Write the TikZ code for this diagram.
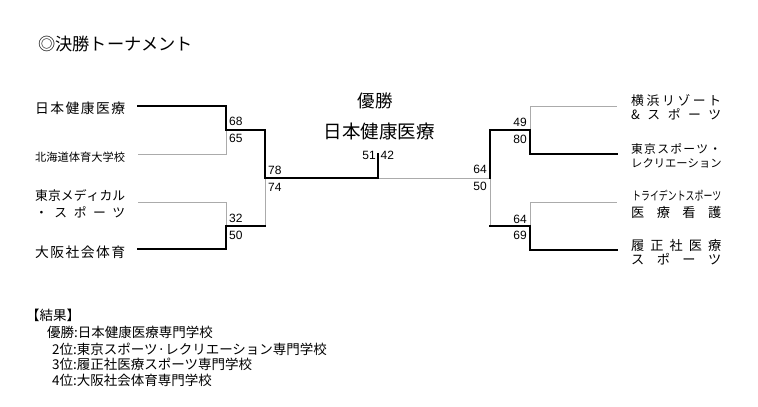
\documentclass[tikz,border=0pt]{standalone}
\usepackage{fontspec}
\usepackage{graphicx}
\setmainfont{Noto Sans CJK JP}
\newfontfamily\numfont{Liberation Sans}
\newcommand{\fs}[1]{\fontsize{#1pt}{#1pt}\selectfont}
\newcommand{\spreadbox}[2][90pt]{\makebox[#1][s]{#2}}
\begin{document}
\begin{tikzpicture}[x=1pt,y=-1pt,
  team/.style={inner sep=0pt, anchor=west, font=\fs{13.8}},
  score/.style={inner sep=0pt, font=\numfont\fs{12}},
  win/.style={line width=2pt, black, line cap=rect},
  lose/.style={line width=1pt, black!33},
  res/.style={inner sep=0pt, anchor=west, font=\fs{13.5}}]
\fill[white] (0,0) rectangle (758,407);
\useasboundingbox (0,0) rectangle (758,407);

% title
\node[inner sep=0pt, anchor=west, font=\fs{17.2}] (title) at (38,44) {◎決勝トーナメント};

% left teams
\node[team] (l1) at (35,108) {\spreadbox{日\hfil 本\hfil 健\hfil 康\hfil 医\hfil 療}};
\node[team, font=\fs{11.25}] (l2) at (35,157) {\spreadbox{北\hfil 海\hfil 道\hfil 体\hfil 育\hfil 大\hfil 学\hfil 校}};
\node[team, font=\fs{12.8}] (l3a) at (35,196) {\spreadbox{東\hfil 京\hfil メ\hfil デ\hfil ィ\hfil カ\hfil ル}};
\node[team, font=\fs{12.8}] (l3b) at (35,212.5) {\spreadbox{・\hfil ス\hfil ポ\hfil ー\hfil ツ}};
\node[team] (l4) at (35,252) {\spreadbox{大\hfil 阪\hfil 社\hfil 会\hfil 体\hfil 育}};

% right teams
\node[team, font=\fs{12.8}] (r1a) at (631,101) {\spreadbox{横\hfil 浜\hfil リ\hfil ゾ\hfil ー\hfil ト}};
\node[team, font=\fs{12.8}] (r1b) at (631,114) {\spreadbox{\&\hfil ス\hfil ポ\hfil ー\hfil ツ}};
\node[team, font=\fs{11.8}] (r2a) at (631,149) {\spreadbox{東\hfil 京\hfil ス\hfil ポ\hfil ー\hfil ツ\hfil ・}};
\node[team, font=\fs{11.3}] (r2b) at (631,163) {\spreadbox{レ\hfil ク\hfil リ\hfil エ\hfil ー\hfil シ\hfil ョ\hfil ン}};
\node[team, font=\fs{12.2}] (r3a) at (632,195.5) {\resizebox{89pt}{\height}{トライデントスポーツ}};
\node[team, font=\fs{13.2}] (r3b) at (631,212) {\spreadbox{医\hfil 療\hfil 看\hfil 護}};
\node[team, font=\fs{13.2}] (r4a) at (631,245) {\spreadbox{履\hfil 正\hfil 社\hfil 医\hfil 療}};
\node[team, font=\fs{13.2}] (r4b) at (631,259.5) {\spreadbox{ス\hfil ポ\hfil ー\hfil ツ}};

% champion
\node[inner sep=0pt, font=\fs{17.5}] (champt) at (375,101) {優勝};
\node[inner sep=0pt, font=\fs{18.5}] (champ) at (379,131.5) {日本健康医療};

% bracket coordinates
\coordinate (a1) at (138,106);
\coordinate (a2) at (138,154);
\coordinate (a3) at (138,202);
\coordinate (a4) at (138,249);
\coordinate (b1) at (226,106);
\coordinate (b2) at (226,154);
\coordinate (b3) at (226,202);
\coordinate (b4) at (226,249);
\coordinate (m1) at (226,130);
\coordinate (m2) at (226,226);
\coordinate (n1) at (265,130);
\coordinate (n2) at (265,226);
\coordinate (n0) at (265,178);
\coordinate (f0) at (378,178);
\coordinate (ft) at (378,154);
\coordinate (g0) at (490,178);
\coordinate (g1) at (490,130);
\coordinate (g2) at (490,226);
\coordinate (h1) at (530,130);
\coordinate (h2) at (530,226);
\coordinate (c1) at (530,106);
\coordinate (c2) at (530,154);
\coordinate (c3) at (530,202);
\coordinate (c4) at (530,250);
\coordinate (d1) at (617,106);
\coordinate (d2) at (617,154);
\coordinate (d3) at (617,202);
\coordinate (d4) at (617,250);

% losing paths
\draw[lose] (a2) -- (b2) -- (m1);
\draw[lose] (a3) -- (b3) -- (m2);
\draw[lose] (n2) -- (n0);
\draw[lose] (f0) -- (g0);
\draw[lose] (g0) -- (g2);
\draw[lose] (h1) -- (c1) -- (d1);
\draw[lose] (h2) -- (c3) -- (d3);

% winning paths
\draw[win] (a1) -- (b1) -- (m1) -- (n1) -- (n0) -- (f0) -- (ft);
\draw[win] (a4) -- (b4) -- (m2) -- (n2);
\draw[win] (g0) -- (g1) -- (h1) -- (c2) -- (d2);
\draw[win] (g2) -- (h2) -- (c4) -- (d4);

% scores left
\node[score, anchor=west] (s68) at (229,121) {68};
\node[score, anchor=west] (s65) at (229,138) {65};
\node[score, anchor=west] (s32) at (229,218.5) {32};
\node[score, anchor=west] (s50) at (229,235) {50};
\node[score, anchor=west] (s78) at (268,170) {78};
\node[score, anchor=west] (s74) at (268,187) {74};
% final
\node[score, anchor=east] (s51) at (376,155.5) {51};
\node[score, anchor=west] (s42) at (380.5,155.5) {42};
% scores right
\node[score, anchor=east] (s64a) at (487,169) {64};
\node[score, anchor=east] (s50b) at (487,186.5) {50};
\node[score, anchor=east] (s49) at (527,122) {49};
\node[score, anchor=east] (s80) at (527,139) {80};
\node[score, anchor=east] (s64b) at (527,219) {64};
\node[score, anchor=east] (s69) at (527,235.5) {69};

% results
\node[res] (rh) at (26,315) {【結果】};
\node[res] (rr1) at (47,332.5) {優勝:日本健康医療専門学校};
\node[res] (rr2) at (52,349) {2位:東京スポーツ·レクリエーション専門学校};
\node[res] (rr3) at (52,364.5) {3位:履正社医療スポーツ専門学校};
\node[res] (rr4) at (52,380.5) {4位:大阪社会体育専門学校};
\end{tikzpicture}
\end{document}
